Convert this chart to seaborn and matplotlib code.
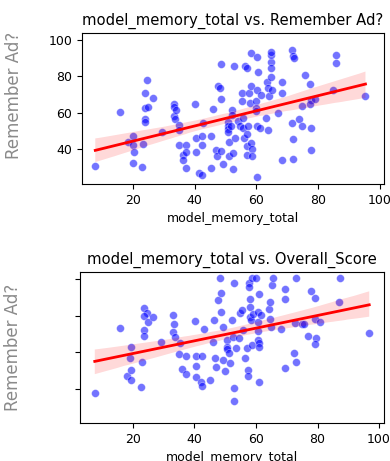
import numpy as np
import pandas as pd
import matplotlib
matplotlib.use('Agg')
import matplotlib.pyplot as plt
import seaborn as sns

# model_memory_total vs. Remember Ad?
memory_top = [7.8, 15.8, 18.4, 20.0, 20.0, 20.2, 20.0, 23.0, 23.2, 23.8, 23.8, 23.9, 23.9, 24.6, 24.9,
              26.6, 29.3, 33.4, 33.4, 33.4, 33.5, 34.0, 34.8, 34.8, 34.8, 36.2, 36.2, 37.1, 37.1, 37.1,
              40.0, 40.3, 40.3, 41.5, 42.3, 42.3, 42.5, 42.7, 45.3, 45.3, 46.0, 46.9, 47.2, 47.5, 48.2,
              48.6, 48.6, 48.4, 49.2, 50.7, 50.7, 50.7, 50.7, 51.0, 51.0, 51.7, 52.2, 52.2, 52.4, 52.4,
              52.6, 52.9, 53.9, 54.6, 55.2, 55.2, 55.6, 55.6, 56.0, 56.4, 57.0, 56.8, 56.9, 57.0, 57.3,
              57.7, 57.8, 58.1, 58.1, 58.4, 58.4, 58.3, 59.7, 59.9, 60.0, 60.1, 60.1, 60.2, 60.3, 60.5,
              61.2, 61.6, 63.1, 63.5, 63.7, 63.7, 64.2, 64.6, 64.6, 64.6, 64.6, 64.6, 65.1, 67.0, 68.3,
              68.3, 68.3, 71.6, 71.8, 72.1, 71.5, 71.8, 71.8, 73.9, 74.7, 74.9, 75.6, 77.2, 77.5, 77.4,
              77.6, 77.7, 78.8, 84.9, 85.6, 85.8, 95.3]
remember_ad = [30.3, 60.2, 44.0, 46.8, 42.2, 38.0, 32.0, 29.7, 42.6, 70.6, 62.4, 56.5, 54.7, 78.0, 63.3,
               68.3, 49.5, 64.6, 63.3, 58.3, 56.3, 61.5, 53.2, 50.1, 42.0, 36.5, 33.6, 42.0, 38.2, 29.2,
               64.8, 46.2, 38.0, 26.6, 42.2, 46.8, 25.3, 54.5, 46.8, 29.4, 61.8, 39.4, 36.1, 74.9, 73.4,
               86.6, 67.7, 38.9, 31.7, 55.0, 52.7, 51.0, 49.5, 43.7, 36.0, 52.3, 61.5, 58.7, 37.6, 28.6,
               85.7, 46.2, 55.4, 52.3, 71.0, 66.4, 56.9, 51.7, 46.2, 86.0, 84.4, 41.7, 36.5, 48.3, 52.7,
               70.6, 65.1, 74.9, 43.1, 39.8, 35.8, 93.2, 66.4, 62.4, 60.6, 52.3, 72.5, 24.2, 90.8, 82.6,
               51.7, 69.7, 56.9, 76.7, 73.8, 50.5, 69.4, 88.1, 91.7, 93.6, 84.4, 79.4, 72.7, 60.0, 33.9,
               77.0, 70.6, 94.5, 91.2, 90.3, 54.5, 45.5, 34.3, 56.3, 63.7, 52.8, 80.7, 75.6, 67.0, 64.6,
               51.6, 39.3, 67.5, 72.5, 87.5, 91.7, 69.0]

# model_memory_total vs. Overall_Score (bottom panel, y tick labels hidden)
memory_bot = [7.6, 15.9, 18.1, 19.4, 19.4, 19.1, 19.4, 22.7, 23.1, 23.6, 24.5, 23.6, 23.6, 23.6, 24.8,
              26.5, 29.2, 33.0, 33.5, 33.0, 33.7, 35.3, 35.0, 36.1, 37.4, 37.2, 40.2, 40.4, 40.6, 40.6,
              42.0, 42.4, 42.4, 43.0, 45.2, 46.0, 46.3, 46.8, 47.0, 47.8, 48.2, 48.7, 48.7, 49.2, 49.2,
              49.9, 50.6, 50.6, 50.6, 51.2, 51.4, 52.3, 52.5, 52.8, 52.8, 52.9, 53.5, 54.6, 54.9, 55.4,
              55.7, 56.5, 57.0, 57.3, 57.3, 57.6, 57.8, 58.0, 58.0, 58.0, 58.4, 58.6, 59.0, 58.6, 60.0,
              60.9, 60.6, 60.6, 60.6, 60.6, 60.9, 61.1, 61.1, 61.6, 64.3, 64.5, 64.6, 64.8, 65.1, 65.4,
              68.2, 69.3, 69.3, 69.3, 72.5, 73.0, 72.8, 72.9, 74.9, 75.7, 76.9, 77.9, 79.1, 79.3, 79.6,
              79.3, 80.7, 87.2, 86.9, 96.8]
overall_score = [38.0, 73.1, 47.1, 44.9, 63.1, 56.7, 50.4, 41.0, 54.5, 84.0, 81.6, 79.8, 72.2, 68.9, 76.7,
                 79.5, 65.6, 80.4, 75.3, 70.9, 68.5, 64.9, 58.9, 51.0, 48.2, 58.0, 77.3, 58.0, 52.5, 46.7,
                 44.0, 41.6, 58.0, 72.7, 44.9, 65.8, 77.6, 56.7, 51.8, 88.5, 100.4, 92.1, 82.2, 74.0, 55.8,
                 49.8, 66.7, 63.1, 61.6, 59.8, 54.0, 77.6, 68.5, 97.6, 40.4, 33.5, 62.5, 67.9, 81.6, 83.1,
                 72.2, 57.1, 62.2, 50.4, 47.1, 98.0, 95.8, 88.9, 84.9, 79.1, 77.6, 64.0, 80.7, 100.4, 100.4,
                 91.7, 82.2, 76.7, 71.8, 66.7, 64.9, 63.1, 43.6, 80.4, 83.5, 87.6, 78.2, 74.0, 96.7, 100.4,
                 72.5, 94.4, 89.0, 51.6, 59.5, 55.0, 76.2, 100.4, 75.3, 75.3, 68.9, 93.6, 89.5, 78.0, 68.0,
                 64.4, 76.4, 100.4, 87.6, 70.7]

x_ticks = [20, 40, 60, 80, 100]
y_ticks = [40, 60, 80, 100]

df_top = pd.DataFrame({'model_memory_total': memory_top, 'Remember Ad?': remember_ad})
df_bot = pd.DataFrame({'model_memory_total': memory_bot, 'Overall_Score': overall_score})

fig = plt.figure(figsize=(3.9, 4.61), dpi=100)
ax1 = fig.add_axes([82 / 390, 1 - 184 / 461, 302 / 390, 151 / 461])
ax2 = fig.add_axes([80 / 390, 1 - 423 / 461, 304 / 390, 151 / 461])

for ax, df, ycol, title in [(ax1, df_top, 'Remember Ad?', 'model_memory_total vs. Remember Ad?'),
                            (ax2, df_bot, 'Overall_Score', 'model_memory_total vs. Overall_Score')]:
    sns.scatterplot(data=df, x='model_memory_total', y=ycol, color='blue', alpha=0.55,
                    s=32, edgecolor='white', linewidth=0.4, ax=ax)
    sns.regplot(data=df, x='model_memory_total', y=ycol, scatter=False, color='red',
                line_kws={'linewidth': 2}, ax=ax)
    ax.set_title(title, fontsize=10.6)
    ax.set_xlabel('model_memory_total', fontsize=9)
    ax.set_ylabel('Remember Ad?', fontsize=12, color='#8a8a8a')
    ax.set_xticks(x_ticks)
    ax.set_yticks(y_ticks)
    ax.tick_params(labelsize=9)

ax1.set_xlim(3.5, 101.3)
ax1.set_ylim(20.5, 104)
ax1.yaxis.set_label_coords(-0.195, 0.59)

ax2.set_xlim(2.8, 101.6)
ax2.set_ylim(21.5, 103.8)
ax2.set_yticklabels([])
ax2.yaxis.set_label_coords(-0.19, 0.5)

fig.savefig('out.png', dpi=100)
